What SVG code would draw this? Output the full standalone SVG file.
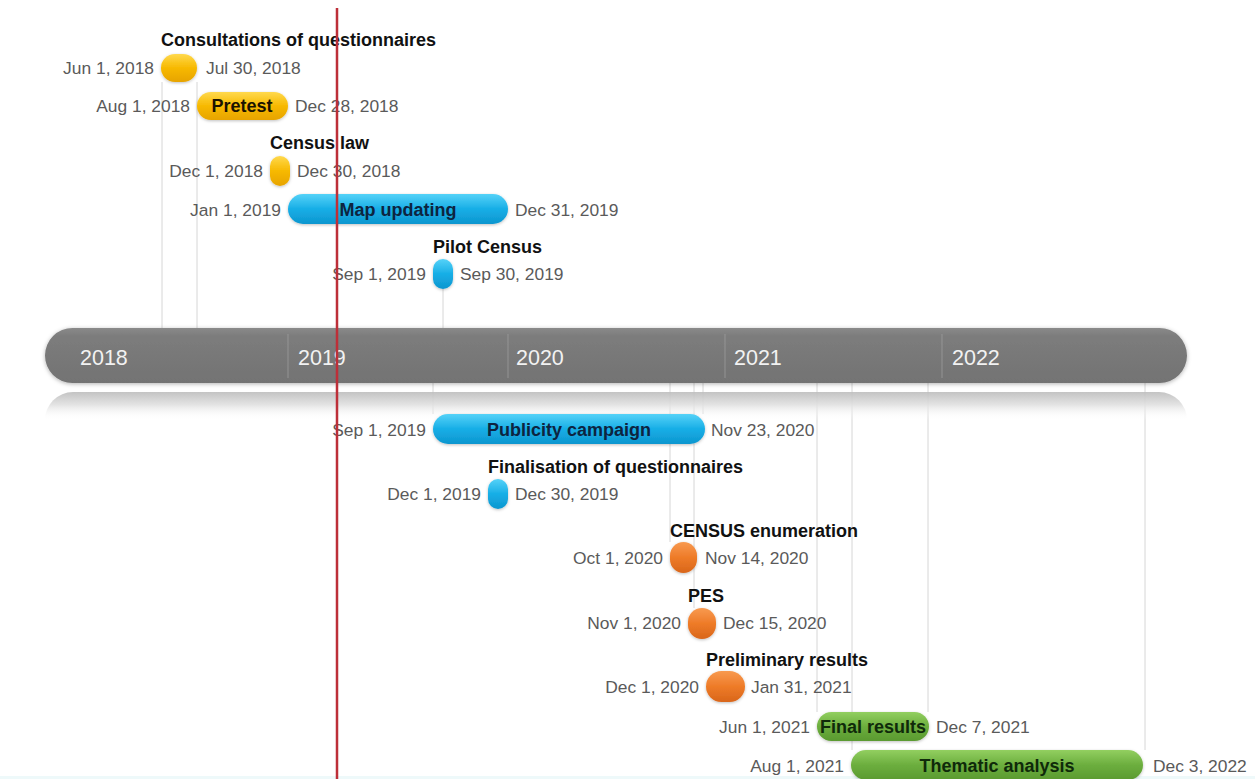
<svg xmlns="http://www.w3.org/2000/svg" width="1255" height="779" viewBox="0 0 1255 779">
<defs>
<linearGradient id="gY" x1="0" y1="0" x2="0" y2="1"><stop offset="0" stop-color="#ffd94e"/><stop offset="0.5" stop-color="#f7b900"/><stop offset="1" stop-color="#e7a400"/></linearGradient>
<linearGradient id="gB" x1="0" y1="0" x2="0" y2="1"><stop offset="0" stop-color="#55d2f8"/><stop offset="0.5" stop-color="#17aee6"/><stop offset="1" stop-color="#0d96cf"/></linearGradient>
<linearGradient id="gO" x1="0" y1="0" x2="0" y2="1"><stop offset="0" stop-color="#f89a50"/><stop offset="0.5" stop-color="#ee7b28"/><stop offset="1" stop-color="#d9661a"/></linearGradient>
<linearGradient id="gG" x1="0" y1="0" x2="0" y2="1"><stop offset="0" stop-color="#92cf60"/><stop offset="0.5" stop-color="#6cae3e"/><stop offset="1" stop-color="#5a9a30"/></linearGradient>
<linearGradient id="gBar" x1="0" y1="0" x2="0" y2="1"><stop offset="0" stop-color="#8a8a8a"/><stop offset="0.15" stop-color="#7c7c7c"/><stop offset="1" stop-color="#737373"/></linearGradient>
<linearGradient id="gRef" x1="0" y1="0" x2="0" y2="1"><stop offset="0" stop-color="#bdbdbd"/><stop offset="0.45" stop-color="#e0e0e0"/><stop offset="1" stop-color="#ffffff" stop-opacity="0"/></linearGradient>
<filter id="sh" x="-20%" y="-40%" width="140%" height="180%"><feDropShadow dx="0" dy="1" stdDeviation="1.5" flood-color="#000" flood-opacity="0.25"/></filter>
<filter id="shBar" x="-5%" y="-30%" width="110%" height="160%"><feDropShadow dx="0" dy="1" stdDeviation="2" flood-color="#000" flood-opacity="0.3"/></filter>
<style>
.dl,.dr{font-family:"Liberation Sans",Arial,sans-serif;font-size:17.4px;fill:#5a5a5a}
.l{text-anchor:end}
.t{font-family:"Liberation Sans",Arial,sans-serif;font-size:18px;font-weight:bold;fill:#111}
.pt{font-family:"Liberation Sans",Arial,sans-serif;font-size:18px;font-weight:bold;text-anchor:middle}
.yr{font-family:"Liberation Sans",Arial,sans-serif;font-size:21.5px;fill:#f2f2f2}
.vl{stroke:#d6d6d6;stroke-width:1;fill:none}
.sep{stroke:#a0a0a0;stroke-width:1;opacity:0.7}
</style>
</defs>
<rect width="1255" height="779" fill="#ffffff"/>
<rect x="0" y="776" width="1255" height="3" fill="#eef9fa"/>

<g id="connectors">
<line class="vl" x1="162" y1="82" x2="162" y2="328"/>
<line class="vl" x1="197" y1="82" x2="197" y2="328"/>
<line class="vl" x1="443" y1="289" x2="443" y2="328"/>
<line class="vl" x1="433" y1="383" x2="433" y2="414"/>
<line class="vl" x1="670" y1="383" x2="670" y2="542"/>
<line class="vl" x1="694" y1="383" x2="694" y2="608"/>
<line class="vl" x1="703" y1="383" x2="703" y2="414"/>
<line class="vl" x1="817" y1="383" x2="817" y2="712"/>
<line class="vl" x1="852" y1="383" x2="852" y2="750"/>
<line class="vl" x1="928" y1="383" x2="928" y2="712"/>
<line class="vl" x1="1145" y1="383" x2="1145" y2="750"/>
</g>

<g id="timeline">
<path d="M73 392 H1159 A28 28 0 0 1 1187 420 H45 A28 28 0 0 1 73 392 Z" fill="url(#gRef)" opacity="0.9"/>
<rect x="45" y="328" width="1142" height="55" rx="27.5" fill="url(#gBar)" filter="url(#shBar)"/>
<line class="sep" x1="288" y1="334" x2="288" y2="378"/>
<line class="sep" x1="508" y1="334" x2="508" y2="378"/>
<line class="sep" x1="725" y1="334" x2="725" y2="378"/>
<line class="sep" x1="942" y1="334" x2="942" y2="378"/>
<text class="yr" x="80" y="365">2018</text>
<text class="yr" x="298" y="365">2019</text>
<text class="yr" x="516" y="365">2020</text>
<text class="yr" x="734" y="365">2021</text>
<text class="yr" x="952" y="365">2022</text>
</g>

<g id="consultations">
<text class="t" x="161" y="46">Consultations of questionnaires</text>
<rect x="161" y="54" width="36" height="28" rx="14" fill="url(#gY)" filter="url(#sh)"/>
<text class="dl l" x="154" y="74">Jun 1, 2018</text>
<text class="dr" x="206" y="74">Jul 30, 2018</text>
</g>

<g id="pretest">
<rect x="197" y="92" width="91" height="28" rx="14" fill="url(#gY)" filter="url(#sh)"/>
<text class="pt" x="242" y="112" fill="#1a1200">Pretest</text>
<text class="dl l" x="190" y="112">Aug 1, 2018</text>
<text class="dr" x="295" y="112">Dec 28, 2018</text>
</g>

<g id="census-law">
<text class="t" x="270" y="149">Census law</text>
<rect x="270" y="156" width="20" height="30" rx="10" fill="url(#gY)" filter="url(#sh)"/>
<text class="dl l" x="263" y="177">Dec 1, 2018</text>
<text class="dr" x="297" y="177">Dec 30, 2018</text>
</g>

<g id="map-updating">
<rect x="288" y="194" width="220" height="30" rx="15" fill="url(#gB)" filter="url(#sh)"/>
<text class="pt" x="398" y="216" fill="#0d2440">Map updating</text>
<text class="dl l" x="281" y="216">Jan 1, 2019</text>
<text class="dr" x="515" y="216">Dec 31, 2019</text>
</g>

<g id="pilot-census">
<text class="t" x="433" y="253">Pilot Census</text>
<rect x="433" y="259" width="20" height="30" rx="10" fill="url(#gB)" filter="url(#sh)"/>
<text class="dl l" x="426" y="280">Sep 1, 2019</text>
<text class="dr" x="460" y="280">Sep 30, 2019</text>
</g>

<g id="publicity-campaign">
<rect x="433" y="414" width="272" height="30" rx="15" fill="url(#gB)" filter="url(#sh)"/>
<text class="pt" x="569" y="436" fill="#0d2440">Publicity campaign</text>
<text class="dl l" x="426" y="436">Sep 1, 2019</text>
<text class="dr" x="711" y="436">Nov 23, 2020</text>
</g>

<g id="finalisation">
<text class="t" x="488" y="473">Finalisation of questionnaires</text>
<rect x="488" y="479" width="20" height="30" rx="10" fill="url(#gB)" filter="url(#sh)"/>
<text class="dl l" x="481" y="500">Dec 1, 2019</text>
<text class="dr" x="515" y="500">Dec 30, 2019</text>
</g>

<g id="census-enumeration">
<text class="t" x="670" y="537">CENSUS enumeration</text>
<rect x="670" y="542" width="27" height="31" rx="13.5" fill="url(#gO)" filter="url(#sh)"/>
<text class="dl l" x="663" y="564">Oct 1, 2020</text>
<text class="dr" x="705" y="564">Nov 14, 2020</text>
</g>

<g id="pes">
<text class="t" x="688" y="602">PES</text>
<rect x="688" y="608" width="28" height="31" rx="14" fill="url(#gO)" filter="url(#sh)"/>
<text class="dl l" x="681" y="629">Nov 1, 2020</text>
<text class="dr" x="723" y="629">Dec 15, 2020</text>
</g>

<g id="preliminary-results">
<text class="t" x="706" y="666">Preliminary results</text>
<rect x="706" y="671" width="39" height="31" rx="15.5" fill="url(#gO)" filter="url(#sh)"/>
<text class="dl l" x="699" y="693">Dec 1, 2020</text>
<text class="dr" x="751" y="693">Jan 31, 2021</text>
</g>

<g id="final-results">
<rect x="817" y="712" width="112" height="29" rx="14.5" fill="url(#gG)" filter="url(#sh)"/>
<text class="pt" x="873" y="733" fill="#0f2a0a">Final results</text>
<text class="dl l" x="810" y="733">Jun 1, 2021</text>
<text class="dr" x="936" y="733">Dec 7, 2021</text>
</g>

<g id="thematic-analysis">
<rect x="851" y="750" width="292" height="30" rx="15" fill="url(#gG)" filter="url(#sh)"/>
<text class="pt" x="997" y="772" fill="#0f2a0a">Thematic analysis</text>
<text class="dl l" x="844" y="772">Aug 1, 2021</text>
<text class="dr" x="1153" y="772">Dec 3, 2022</text>
</g>

<g id="today-marker">
<line x1="337" y1="8" x2="337" y2="779" stroke="#bd2f38" stroke-width="2.5"/>
</g>
</svg>
